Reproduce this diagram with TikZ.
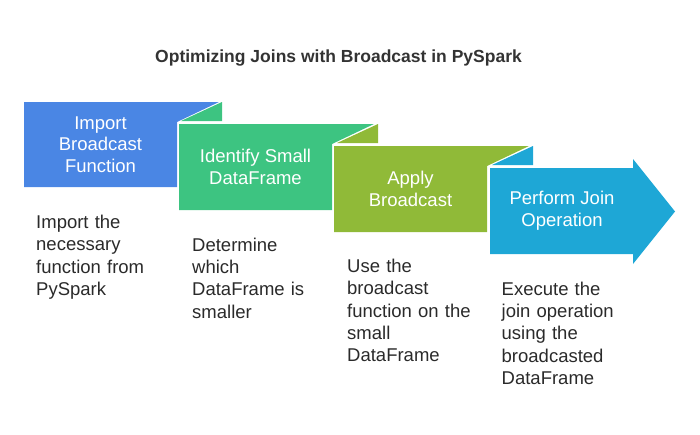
\documentclass[tikz,border=0pt]{standalone}
\usepackage{fontspec}
\setmainfont{Liberation Sans}
\definecolor{cBlue}{RGB}{74,134,228}
\definecolor{cGreen}{RGB}{61,196,129}
\definecolor{cOlive}{RGB}{144,186,56}
\definecolor{cCyan}{RGB}{30,167,214}
\definecolor{cText}{RGB}{42,42,42}
\definecolor{cTitle}{RGB}{51,51,51}
\begin{document}
\begin{tikzpicture}[x=1pt,y=-1pt,
  lbl/.style={text=white,font=\fontsize{18.5}{21.7}\selectfont,align=center,inner sep=0pt},
  desc/.style={text=cText,font=\fontsize{18.5}{22.3}\selectfont,align=left,anchor=north west,inner sep=0pt,text width=150pt},
  ttl/.style={text=cTitle,font=\fontsize{17.5}{20}\selectfont\bfseries,inner sep=0pt,anchor=base}]
\useasboundingbox (0,0) rectangle (700,434);
% title
\node[ttl] (title) at (338.5,62.7) {Optimizing Joins with Broadcast in PySpark};
% box 1
\fill[cBlue] (24,102) -- (219,102) -- (177,122) -- (177,187) -- (24,187) -- cycle;
% fold 2 + box 2
\fill[cGreen] (222,102) -- (222,121) -- (181,121) -- cycle;
\fill[cGreen] (179,124) -- (374,124) -- (332,144) -- (332,210) -- (179,210) -- cycle;
% fold 3 + box 3
\fill[cOlive] (378,124) -- (378,143) -- (337,143) -- cycle;
\fill[cOlive] (334,146) -- (529,146) -- (487,166) -- (487,232) -- (334,232) -- cycle;
% fold 4 + arrow
\fill[cCyan] (533,146) -- (533,165) -- (492,165) -- cycle;
\fill[cCyan] (490,168) -- (633,168) -- (633,159) -- (675,211.5) -- (633,264) -- (633,254) -- (490,254) -- cycle;
% labels
\node[lbl] (t1) at (100.5,144.5) {Import\\Broadcast\\Function};
\node[lbl] (t2) at (255.5,167) {Identify Small\\DataFrame};
\node[lbl] (t3) at (410.5,189) {Apply\\Broadcast};
\node[lbl] (t4) at (562,211) {Perform Join\\Operation};
% descriptions
\node[desc] (d1) at (36,212.7) {\strut Import the\\necessary\\function from\\PySpark};
\node[desc] (d2) at (192,235.4) {\strut Determine\\which\\DataFrame is\\smaller};
\node[desc] (d3) at (347,256.7) {\strut Use the\\broadcast\\function on the\\small\\DataFrame};
\node[desc] (d4) at (501.5,279.4) {\strut Execute the\\join operation\\using the\\broadcasted\\DataFrame};
\end{tikzpicture}
\end{document}
